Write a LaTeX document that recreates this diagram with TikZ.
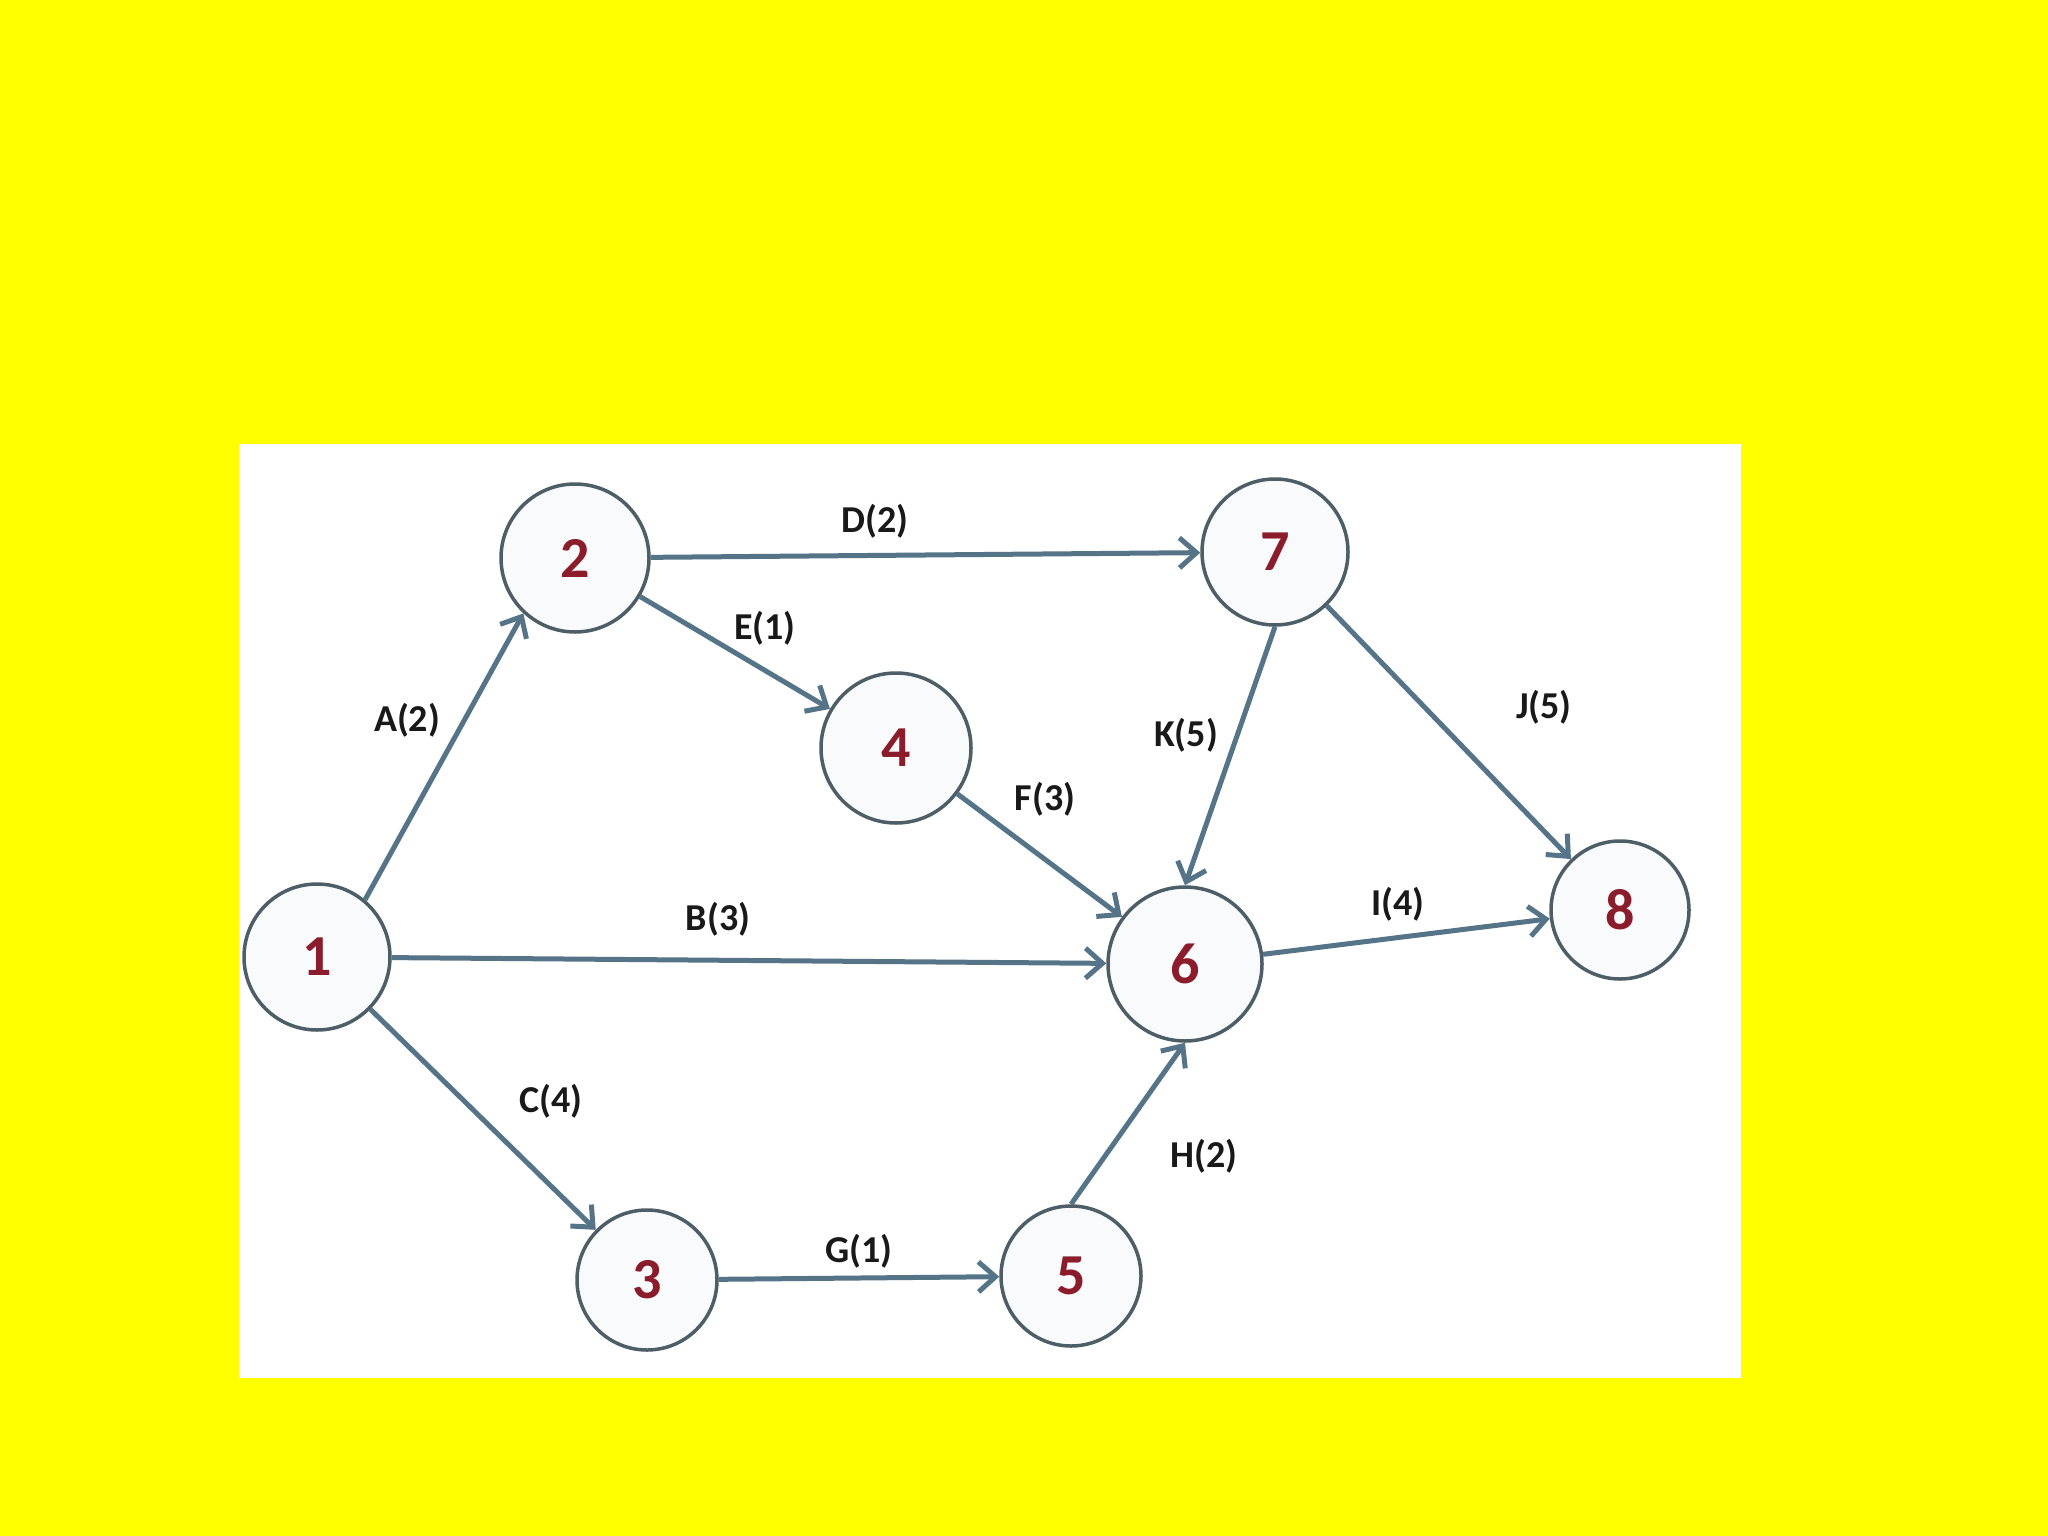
\documentclass[tikz,border=0pt]{standalone}
\usepackage{fontspec}
\setmainfont{Carlito}
\usetikzlibrary{arrows.meta}
\definecolor{bgyellow}{HTML}{FFFF00}
\definecolor{edgecol}{HTML}{557488}
\definecolor{ringcol}{HTML}{4E5E66}
\definecolor{numcol}{HTML}{8A1C2C}
\definecolor{ringfill}{HTML}{F8FAFB}
\tikzset{
  ev/.style={circle, draw=ringcol, line width=3.5pt, fill=ringfill, inner sep=0pt,
    text=numcol, font=\fontsize{58}{64}\selectfont\bfseries},
  act/.style={draw=edgecol, line width=5pt, -{Straight Barb[length=17pt,width=30pt,line width=5pt]}},
  lbl/.style={text=black!90, font=\fontsize{38}{44}\selectfont\bfseries, inner sep=0pt}
}
\begin{document}
\begin{tikzpicture}[x=1pt,y=-1pt]
\fill[bgyellow] (0,0) rectangle (2048,1536);
\useasboundingbox (0,0) rectangle (2048,1536);
\fill[white] (239,444) rectangle (1741,1378);

\node[ev, minimum size=146pt] (n1) at (317,957) {1};
\node[ev, minimum size=148pt] (n2) at (575,558) {2};
\node[ev, minimum size=140pt] (n3) at (647,1280) {3};
\node[ev, minimum size=150pt] (n4) at (896,748) {4};
\node[ev, minimum size=140pt] (n5) at (1071,1276) {5};
\node[ev, minimum size=154pt] (n6) at (1185,964) {6};
\node[ev, minimum size=146pt] (n7) at (1275,552) {7};
\node[ev, minimum size=138pt] (n8) at (1620,910) {8};

\draw[act] (n1.50) -- (n2.227);
\draw[act] (n1) -- (n6);
\draw[act] (n1) -- (n3);
\draw[act] (n2) -- (n7);
\draw[act] (n2) -- (n4);
\draw[act] (n4) -- (n6);
\draw[act] (n3) -- (n5);
\draw[act] (n5.north) -- (n6.south);
\draw[act] (n7.south) -- (n6.north);
\draw[act] (n7) -- (n8);
\draw[act] (n6) -- (n8);

\node[lbl] (la) at (407,720) {A(2)};
\node[lbl] (ld) at (875,521) {D(2)};
\node[lbl] (le) at (765,628) {E(1)};
\node[lbl] (lk) at (1186,735) {K(5)};
\node[lbl] (lj) at (1544,707) {J(5)};
\node[lbl] (lf) at (1045,799) {F(3)};
\node[lbl] (lb) at (718,919) {B(3)};
\node[lbl] (li) at (1398,904) {I(4)};
\node[lbl] (lc) at (551,1101) {C(4)};
\node[lbl] (lg) at (859,1251) {G(1)};
\node[lbl] (lh) at (1204,1156) {H(2)};
\end{tikzpicture}
\end{document}
